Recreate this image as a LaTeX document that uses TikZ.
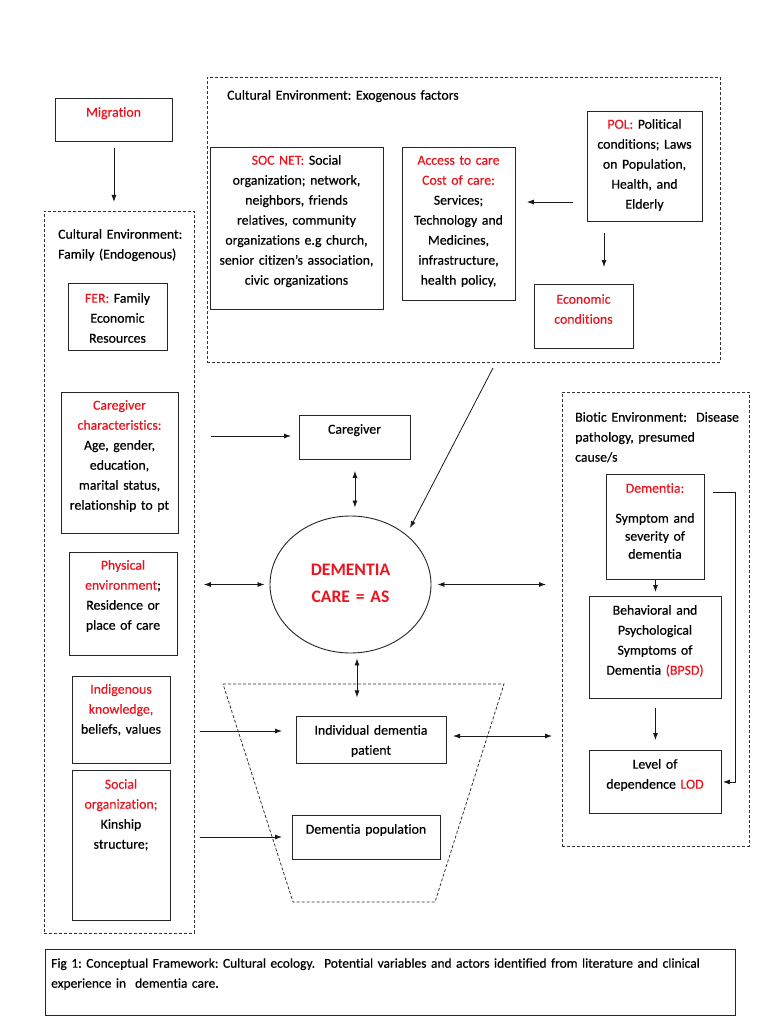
\documentclass[tikz,border=0pt]{standalone}
\usepackage{fontspec}
\setmainfont{Carlito}[Ligatures=NoCommon, FakeBold=0.35, BoldFont=Carlito Bold, BoldFeatures={FakeBold=0}]
\usetikzlibrary{arrows.meta,shapes.geometric}
\definecolor{tred}{RGB}{235,20,30}
\newcommand{\redtxt}[1]{\textcolor{tred}{#1}}
\frenchspacing
\begin{document}
\begin{tikzpicture}[x=1pt,y=-1pt,
  box/.style={draw=black!85, line width=0.9pt, anchor=north west, inner sep=0},
  dbox/.style={draw=black!80, dash pattern=on 3pt off 2pt, line width=0.8pt, anchor=north west, inner sep=0},
  txt/.style={anchor=north, align=center, text width=220pt, inner sep=0, font=\fontsize{13.8}{20}\selectfont},
  ltxt/.style={anchor=north west, align=left, text width=220pt, inner sep=0, font=\fontsize{13.8}{20}\selectfont},
  arr/.style={-{Latex[length=7pt,width=5pt]}, line width=0.8pt, draw=black!90},
  darr/.style={{Latex[length=7pt,width=5pt]}-{Latex[length=7pt,width=5pt]}, line width=0.8pt, draw=black!90}]
\fill[white] (0,0) rectangle (768,1024);
\useasboundingbox (0,0) rectangle (768,1024);

% ---------- containers ----------
\node[dbox, minimum width=150, minimum height=722] (famenv) at (44,211) {};
\node[dbox, minimum width=513, minimum height=285] (exo) at (207,77) {};
\node[dbox, minimum width=187, minimum height=454] (biotic) at (562,392) {};
\draw[dash pattern=on 3pt off 2pt, line width=0.8pt, draw=black!80] (223,684) -- (504,684) -- (435,902) -- (293,902) -- cycle;

\node[ltxt] (famlab) at (58,224.5) {\strut Cultural Environment:\\Family (Endogenous)};
\node[ltxt, text width=300pt] (exolab) at (227,85.5) {\strut Cultural Environment: Exogenous factors};
\node[ltxt, text width=180pt] (biolab) at (575,407.5) {\strut Biotic Environment:\ \ Disease\\pathology, presumed\\cause/s};

% ---------- boxes ----------
\node[box, minimum width=117, minimum height=43] (mig) at (55,98) {};
\node[txt] (migT) at (113.5,102.5) {\strut\redtxt{Migration}};

\node[box, minimum width=99, minimum height=67] (fer) at (68,283) {};
\node[txt] (ferT) at (117.5,288.5) {\strut\redtxt{FER:} Family\\Economic\\Resources};

\node[box, minimum width=117, minimum height=141] (cgc) at (61,392) {};
\node[txt] (cgcT) at (119.5,395.5) {\strut\redtxt{Caregiver}\\\redtxt{characteristics:}\\Age, gender,\\education,\\marital status,\\relationship to pt};

\node[box, minimum width=108, minimum height=103] (phys) at (69,552) {};
\node[txt] (physT) at (123,555.5) {\strut\redtxt{Physical}\\\redtxt{environment};\\Residence or\\place of care};

\node[box, minimum width=98, minimum height=87] (indig) at (72,676) {};
\node[txt] (indigT) at (121,679.5) {\strut\redtxt{Indigenous}\\\redtxt{knowledge,}\\beliefs, values};

\node[box, minimum width=98, minimum height=150] (socorg) at (72,770) {};
\node[txt] (socorgT) at (121,774.5) {\strut\redtxt{Social}\\\redtxt{organization;}\\Kinship\\structure;};

\node[box, minimum width=173, minimum height=162] (socnet) at (210,147) {};
\node[txt] (socnetT) at (296.5,150.5) {\strut\redtxt{SOC NET:} Social\\organization; network,\\neighbors, friends\\relatives, community\\organizations e.g church,\\senior citizen’s association,\\civic organizations};

\node[box, minimum width=113, minimum height=153] (access) at (402,147) {};
\node[txt] (accessT) at (458.5,150.5) {\strut\redtxt{Access to care}\\\redtxt{Cost of care:}\\Services;\\Technology and\\Medicines,\\infrastructure,\\health policy,};

\node[box, minimum width=115, minimum height=110] (pol) at (587,111) {};
\node[txt] (polT) at (644.5,114.5) {\strut\redtxt{POL:} Political\\conditions; Laws\\on Population,\\Health, and\\Elderly};

\node[box, minimum width=99, minimum height=64] (econ) at (534,284) {};
\node[txt] (econT) at (583.5,289.5) {\strut\redtxt{Economic}\\\redtxt{conditions}};

\node[box, minimum width=111, minimum height=44] (cg) at (299,415) {};
\node[txt] (cgT) at (354.5,419.5) {\strut Caregiver};

\node[draw=black!85, line width=0.9pt, ellipse, minimum width=161, minimum height=137, inner sep=0] (care) at (350.5,584.5) {};
\node[anchor=north, align=center, text width=160pt, inner sep=0, font=\fontsize{17.6}{27}\selectfont\bfseries, text=tred] (careT) at (350.5,556.8) {\strut DEMENTIA\\CARE = AS};

\node[box, minimum width=150, minimum height=47] (indiv) at (296,716) {};
\node[txt] (indivT) at (371,720.5) {\strut Individual dementia\\patient};

\node[box, minimum width=148, minimum height=44] (pop) at (292,815) {};
\node[txt] (popT) at (366,819.5) {\strut Dementia population};

\node[box, minimum width=98, minimum height=105] (dem) at (606,474) {};
\node[txt] (demT) at (655,478.5) {\strut\redtxt{Dementia:}};
\node[txt, font=\fontsize{13.8}{18}\selectfont] (demT2) at (655,509.9) {\strut Symptom and\\severity of\\dementia};

\node[box, minimum width=132, minimum height=102] (bpsd) at (589,596) {};
\node[txt] (bpsdT) at (655,600.5) {\strut Behavioral and\\Psychological\\Symptoms of\\Dementia \redtxt{(BPSD)}};

\node[box, minimum width=132, minimum height=63] (lod) at (589,750) {};
\node[txt] (lodT) at (655,754.5) {\strut Level of\\dependence \redtxt{LOD}};

\node[box, minimum width=690, minimum height=66] (cap) at (45,949) {};
\node[ltxt, text width=700pt, font=\fontsize{13.5}{20}\selectfont] (capT) at (51,953.5) {\strut Fig 1: Conceptual Framework: Cultural ecology.\ \ Potential variables and actors identified from literature and clinical\\experience in\ \ dementia care.};

% ---------- connectors ----------
\draw[arr] ([yshift=-6pt]mig.south) -- ([yshift=9pt]mig.south |- famenv.north);

\coordinate (cgin) at (211,436);
\draw[arr] (cgin) -- ([xshift=-8pt]cgin -| cg.west);

\draw[darr] ([yshift=-11pt]cg.south) -- ([yshift=8pt]cg.south |- care.north);

\coordinate (diagS) at (493,368);
\coordinate (diagE) at (410,528);
\draw[arr] (diagS) -- (diagE);

\draw[darr] ([xshift=9pt]famenv.east |- care.west) -- ([xshift=-5pt]care.west);
\draw[darr] ([xshift=6pt]care.east) -- ([xshift=-16pt]care.east -| biotic.west);
\draw[darr] ([xshift=6.5pt,yshift=-5pt]care.south) -- ++(0,39);

\coordinate (indin) at (200,731);
\draw[arr] (indin) -- ([xshift=-14pt]indin -| indiv.west);
\coordinate (popin) at (200,837);
\draw[arr] (popin) -- ([xshift=-10pt]popin -| pop.west);
\coordinate (indR) at (453,736);
\draw[darr] (indR) -- ([xshift=-10pt]indR -| biotic.west);

\coordinate (polA) at (573,202);
\draw[arr] (polA) -- ([xshift=11pt]polA -| access.east);
\coordinate (polB) at (604,233);
\draw[arr] (polB) -- ([yshift=17pt]polB |- econ.north);

\draw[arr] (dem.south) -- ([yshift=4pt]bpsd.north);
\draw[arr] ([yshift=-9pt]bpsd.south) -- ([yshift=10pt]lod.north);
\coordinate (elS) at (713,492);
\draw[arr] (elS) -| ([xshift=13pt]lod.east) -- ([xshift=1pt]lod.east);
\end{tikzpicture}
\end{document}
